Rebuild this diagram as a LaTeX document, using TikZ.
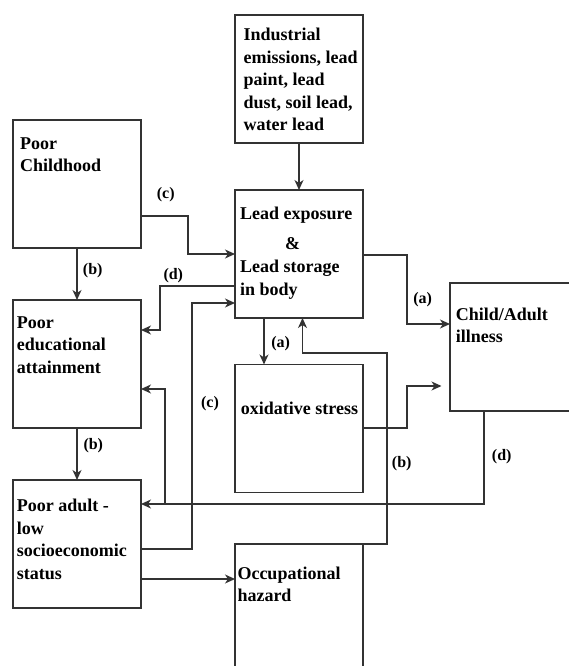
\documentclass[tikz,border=0pt]{standalone}
\usepackage{fontspec}
\setmainfont{Liberation Serif}
\usetikzlibrary{arrows.meta}
\definecolor{lc}{HTML}{333333}
\newcommand{\lines}[1]{\begin{tabular}[t]{@{}l@{}}#1\end{tabular}}
\begin{document}
\begin{tikzpicture}[x=1pt,y=-1pt,
  box/.style={draw=lc, line width=1.3pt, minimum width=128pt, minimum height=128pt, inner sep=0pt, outer sep=0pt},
  txt/.style={anchor=base west, inner sep=0pt, font=\fontsize{18}{22.5}\selectfont\bfseries, text=black},
  lab/.style={inner sep=0pt, font=\fontsize{16}{18}\selectfont\bfseries, text=black},
  conn/.style={draw=lc, line width=1.3pt},
  arr/.style={conn, -{Stealth[length=10pt,width=9pt,inset=3pt]}}]
\useasboundingbox (0,0) rectangle (569,666);
% boxes
\node[box] (ind) at (299,79) {};
\node[box] (child) at (77,184) {};
\node[box] (lead) at (299,254) {};
\node[box] (ill) at (514,347) {};
\node[box] (edu) at (77,364) {};
\node[box] (oxi) at (299,428.5) {};
\node[box] (adult) at (77,544) {};
\node[box] (occ) at (299,608) {};
% texts
\node[txt] (indt) at (243.5,40.7) {\lines{Industrial\\emissions, lead\\paint, lead\\dust, soil lead,\\water lead}};
\node[txt] (childt) at (20,149.3) {\lines{Poor\\Childhood}};
\node[txt] (leadt1) at (240,219) {Lead exposure};
\node[txt] (leadt2) at (285,249.3) {\&};
\node[txt] (leadt3) at (240,272.7) {\lines{Lead storage\\in body}};
\node[txt] (illt) at (455.7,320) {\lines{Child/Adult\\illness}};
\node[txt] (edut) at (16.7,328.3) {\lines{Poor\\educational\\attainment}};
\node[txt] (oxit) at (240.7,414.3) {oxidative stress};
\node[txt] (adultt) at (16.7,511.7) {\lines{Poor adult -\\low\\socioeconomic\\status}};
\node[txt] (occt) at (237.3,579.3) {\lines{Occupational\\hazard}};
% connectors
\draw[arr] (ind.south) -- (lead.north);
\draw[arr] ([yshift=-32pt]child.east) -- ++(47,0) |- (lead.west);
\draw[arr] (child.south) -- (edu.north);
\draw[arr] (edu.south) -- (adult.north);
\draw[arr] ([yshift=-32pt]lead.west) -- ++(-75,0) |- ([yshift=34pt]edu.east);
\draw[arr] ([yshift=-5pt]adult.east) -- ++(51,0) |- ([yshift=-49pt]lead.west);
\draw[arr] ([xshift=-35pt]lead.south) -- ([xshift=-35pt]oxi.north);
\draw[arr] ([yshift=-1pt]lead.east) -- ++(44,0) |- ([yshift=23pt]ill.west);
\coordinate (ofree) at (441.5,386);
\draw[arr] ([yshift=0.5pt]oxi.east) -- ++(44,0) |- (ofree);
\draw[arr] (occ.north east) -- ++(24,0) -- ++(0,-191) -| ([xshift=3.5pt]lead.south);
\draw[arr] ([xshift=-30pt]ill.south) |- ([yshift=40pt]adult.east);
\coordinate (br) at (165,504);
\draw[arr] (br) |- ([yshift=-25pt]edu.east);
\draw[arr] ([yshift=-35pt]adult.east) -- ([yshift=29pt]occ.west);
% labels
\node[lab] (lc1) at (165.7,195) {(c)};
\node[lab] (lb1) at (92.7,270.7) {(b)};
\node[lab] (ld1) at (173.3,275.7) {(d)};
\node[lab] (la1) at (280.7,343.3) {(a)};
\node[lab] (la2) at (422.7,300) {(a)};
\node[lab] (lb2) at (93.3,445.7) {(b)};
\node[lab] (lc2) at (210,403.3) {(c)};
\node[lab] (lb3) at (401.7,464) {(b)};
\node[lab] (ld2) at (501.7,456.7) {(d)};
\end{tikzpicture}
\end{document}
